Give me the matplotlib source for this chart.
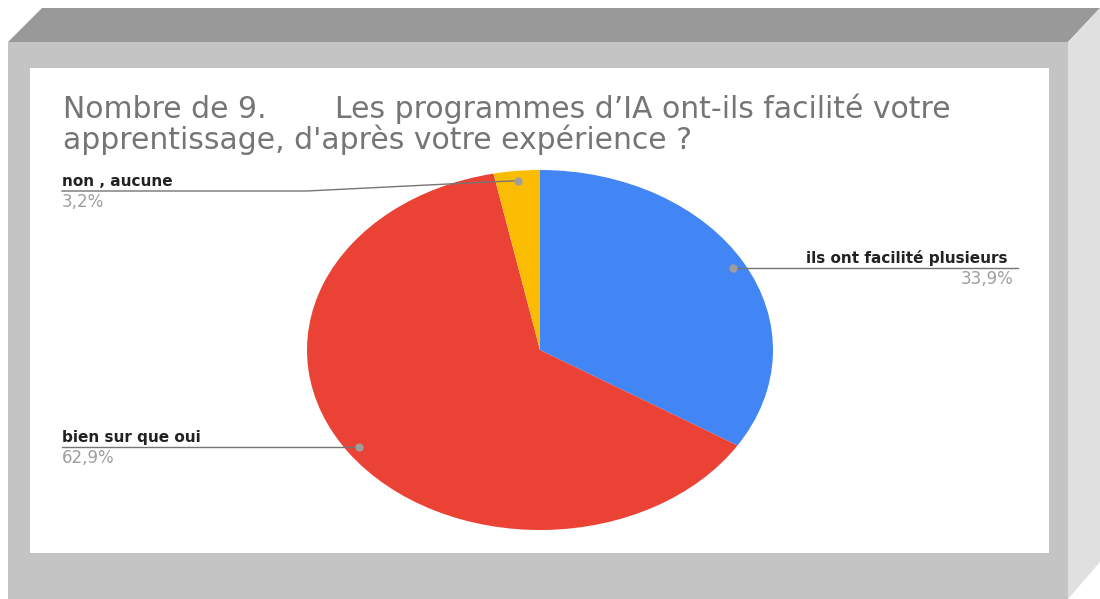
import numpy as np
import matplotlib
matplotlib.use("Agg")
import matplotlib.pyplot as plt
from matplotlib.patches import Polygon, Rectangle

plt.rcParams['font.family'] = ['DejaVu Sans']

# data
labels = ["ils ont facilité plusieurs", "bien sur que oui", "non , aucune"]
values = [33.9, 62.9, 3.2]
pct_labels = ["33,9%", "62,9%", "3,2%"]
colors = ["#4285F4", "#EA4335", "#FBBC04"]
title_a = "Nombre de 9."
title_b = "Les programmes d’IA ont-ils facilité votre"
title_c = "apprentissage, d'après votre expérience ?"

W, H = 1100, 599
fig = plt.figure(figsize=(W / 100, H / 100), dpi=100)
fig.patch.set_facecolor("white")

# frame axes in pixel coordinates
ax = fig.add_axes([0, 0, 1, 1])
ax.set_xlim(0, W)
ax.set_ylim(H, 0)
ax.axis("off")

ax.add_patch(Polygon([(8, 42), (42, 8), (1100, 8), (1068, 42)], closed=True,
                     facecolor="#999999", edgecolor="none"))
ax.add_patch(Polygon([(1068, 42), (1100, 8), (1100, 562), (1068, 599)], closed=True,
                     facecolor="#e0e0e0", edgecolor="none"))
ax.add_patch(Rectangle((8, 42), 1060, 560, facecolor="#c4c4c4", edgecolor="none"))
ax.add_patch(Rectangle((30, 68), 1019, 485, facecolor="white", edgecolor="none"))

# title
tfs = 21.5
ax.text(63, 118, title_a, fontsize=tfs, color="#757575", va="baseline", ha="left")
ax.text(335, 118, title_b, fontsize=tfs, color="#757575", va="baseline", ha="left")
ax.text(63, 149, title_c, fontsize=tfs, color="#757575", va="baseline", ha="left")

# pie (stretched into an ellipse)
cx, cy, rx, ry = 540, 350, 233, 180
pax = fig.add_axes([(cx - rx) / W, (H - cy - ry) / H, 2 * rx / W, 2 * ry / H])
pax.pie(values, colors=colors, startangle=90, counterclock=False,
        wedgeprops=dict(linewidth=0), radius=1)
pax.set_aspect("auto")
pax.set_xlim(-1, 1)
pax.set_ylim(-1, 1)
pax.axis("off")

# overlay for leader lines and labels
ov = fig.add_axes([0, 0, 1, 1])
ov.set_xlim(0, W)
ov.set_ylim(H, 0)
ov.axis("off")
ov.patch.set_alpha(0)

fig.canvas.draw()
to_frame = ov.transData.inverted()

def dot_pos(i):
    start = sum(values[:i])
    mid = 90 - (start + values[i] / 2) / sum(values) * 360
    p = pax.transData.transform((0.945 * np.cos(np.radians(mid)),
                                 0.945 * np.sin(np.radians(mid))))
    return to_frame.transform(p)

lc = "#757575"
dc = "#9e9e9e"
lfs = 11
pfs = 12

# ils ont facilité plusieurs (right)
d = dot_pos(0)
ov.plot([d[0], 1018], [d[1], d[1]], color=lc, lw=1)
ov.plot(d[0], d[1], "o", color=dc, ms=5)
ov.text(1008, d[1] - 5, labels[0], fontsize=lfs, fontweight="bold", color="#222222",
        ha="right", va="baseline")
ov.text(1013, d[1] + 16, pct_labels[0], fontsize=pfs, color=dc, ha="right", va="baseline")

# bien sur que oui (left)
d = dot_pos(1)
ov.plot([62, d[0]], [d[1], d[1]], color=lc, lw=1)
ov.plot(d[0], d[1], "o", color=dc, ms=5)
ov.text(62, d[1] - 5, labels[1], fontsize=lfs, fontweight="bold", color="#222222",
        ha="left", va="baseline")
ov.text(62, d[1] + 16, pct_labels[1], fontsize=pfs, color=dc, ha="left", va="baseline")

# non , aucune (left, bent leader)
d = dot_pos(2)
ly = 191
ov.plot([62, 307, d[0] - 25, d[0]], [ly, ly, d[1] + 1, d[1]], color=lc, lw=1)
ov.plot(d[0], d[1], "o", color=dc, ms=5)
ov.text(62, ly - 5, labels[2], fontsize=lfs, fontweight="bold", color="#222222",
        ha="left", va="baseline")
ov.text(62, ly + 16, pct_labels[2], fontsize=pfs, color=dc, ha="left", va="baseline")

fig.savefig("out.png", dpi=100, facecolor="white")
